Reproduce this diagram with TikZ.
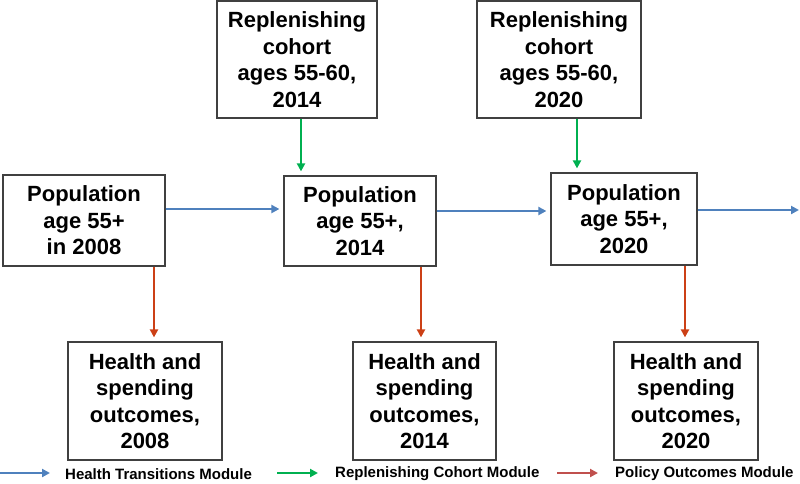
\documentclass[tikz,border=0pt]{standalone}
\usepackage{fontspec}
\setmainfont{Liberation Sans}
\usepackage{xcolor}
\usepackage{tikz}
\usetikzlibrary{arrows.meta}
\definecolor{trblue}{RGB}{79,129,189}
\definecolor{rcgreen}{RGB}{0,176,80}
\definecolor{pored}{RGB}{204,64,22}
\definecolor{legred}{RGB}{192,80,77}
\begin{document}
\begin{tikzpicture}[x=1pt,y=-1pt,>={Triangle[length=8pt,width=8pt]},
box/.style={draw=black!75,line width=1.2pt,align=center,inner sep=0pt,font=\fontsize{22}{26.5}\selectfont\bfseries},
flow/.style={->,line width=2.6pt,shorten >=4pt},
legtext/.style={anchor=west,inner sep=0pt,font=\fontsize{15}{16}\selectfont\bfseries}]
\useasboundingbox(0,0)rectangle(800,483);
% population boxes
\node[box,minimum width=162,minimum height=91](pop08)at(84,220.5){Population\\age 55+\\in 2008};
\node[box,minimum width=152,minimum height=90](pop14)at(360,221){Population\\age 55+,\\2014};
\node[box,minimum width=146,minimum height=92](pop20)at(624,219){Population\\age 55+,\\2020};
% replenishing cohorts
\node[box,minimum width=160,minimum height=117](rep14)at(297,59.5){Replenishing\\cohort\\ages 55-60,\\2014};
\node[box,minimum width=164,minimum height=117](rep20)at(559,59.5){Replenishing\\cohort\\ages 55-60,\\2020};
% outcomes
\node[box,minimum width=154,minimum height=118](out08)at(145,401){Health and\\spending\\outcomes,\\2008};
\node[box,minimum width=143,minimum height=118](out14)at(424.5,401){Health and\\spending\\outcomes,\\2014};
\node[box,minimum width=144,minimum height=118](out20)at(686,401){Health and\\spending\\outcomes,\\2020};
\coordinate(next)at(800,210);
% connectors
\draw[flow,trblue]([yshift=11.5]pop08.east)--([yshift=11.5]pop08.east-|pop14.west);
\draw[flow,trblue]([yshift=10]pop14.east)--([yshift=10]pop14.east-|pop20.west);
\draw[flow,trblue,shorten >=1pt]([yshift=9]pop20.east)--([yshift=9]pop20.east-|next);
\draw[flow,rcgreen]([xshift=4]rep14.south)--([xshift=4]rep14.south|-pop14.north);
\draw[flow,rcgreen]([xshift=18]rep20.south)--([xshift=18]rep20.south|-pop20.north);
\draw[flow,pored]([xshift=70]pop08.south)--([xshift=70]pop08.south|-out08.north);
\draw[flow,pored]([xshift=61]pop14.south)--([xshift=61]pop14.south|-out14.north);
\draw[flow,pored]([xshift=61]pop20.south)--([xshift=61]pop20.south|-out20.north);
% legend
\node[legtext](legtr)at(65,474){Health Transitions Module};
\node[legtext](legrc)at(335,474){Replenishing Cohort Module};
\node[legtext](legpo)at(615,474){Policy Outcomes Module};
\draw[->,line width=2.6pt,trblue](0,473)--(50,473);
\draw[->,line width=2.6pt,rcgreen](277,473)--(318,473);
\draw[->,line width=2.6pt,legred](557,473)--(598,473);
\end{tikzpicture}
\end{document}
